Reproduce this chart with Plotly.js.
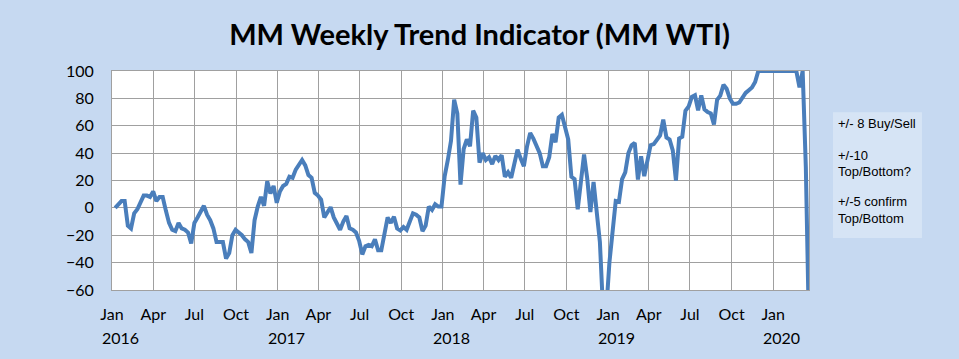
<!DOCTYPE html>
<html>
<head>
<meta charset="utf-8">
<script src="https://cdn.plot.ly/plotly-3.0.1.min.js"></script>
<style>html,body{margin:0;padding:0;background:#c6d9f1;}#chart{width:959px;height:359px;}</style>
</head>
<body>
<div id="chart"></div>
<script>
// Weekly readings (Fridays), first week ending 2016-01-08
const startDate = '2016-01-08';
const wtiValues = [
  0, 3, 5, 5, -13, -15, -4, -1, 4, 9,
  9, 8, 12, 5, 8, 8, -2, -11, -16, -17,
  -11, -15, -16, -18, -26, -11, -7, -2, 1.5, -5,
  -9, -15, -25, -25, -25, -37, -33, -20, -16, -18,
  -20, -23, -25, -33, -9, 1, 8, 1.5, 19.5, 10.5,
  16, 3.7, 12, 16, 17.5, 22.7, 22, 28, 32, 35,
  31, 24, 22, 11, 9, 6, -7, -3, 0.5, -7,
  -12, -16, -10, -6, -15, -16, -18, -24, -34, -28,
  -27, -28, -23, -31, -31, -17, -7, -11, -6.5, -15,
  -16.5, -14, -16, -10, -4, -5, -7, -17, -13, 1,
  -1.5, 2.7, 1, 1, 23, 35, 49, 79, 69, 17,
  43, 50, 45, 71, 66, 33, 40, 35, 37, 32,
  38, 35, 38.5, 22.7, 26, 22, 34, 42.6, 36, 30.5,
  45, 54.8, 50.6, 46, 40, 30.5, 30.5, 37, 54, 48,
  66, 68, 60, 50, 22.7, 21, -1, 20, 39, 21.5,
  -3, 19, -3, -25, -75, -75, -40, -16, 5, 4.5,
  21, 26, 40, 45.8, 47.5, 20.7, 37.7, 23.2, 35, 45.8,
  46.6, 50, 53, 64.5, 51.4, 50, 42, 20, 50.7, 52,
  71, 74, 81, 82.2, 71.3, 82.2, 72, 70, 69, 61,
  79, 82, 90, 87, 80, 76, 76, 77, 81, 84,
  86, 88, 92, 100, 100, 100, 100, 100, 100, 100,
  100, 100, 100, 100, 100, 100, 88, 100, 30, -90
];
const tickDates = ['2016-01-01','2016-04-01','2016-07-01','2016-10-01',
  '2017-01-01','2017-04-01','2017-07-01','2017-10-01',
  '2018-01-01','2018-04-01','2018-07-01','2018-10-01',
  '2019-01-01','2019-04-01','2019-07-01','2019-10-01','2020-01-01'];
const tickLabels = ['Jan','Apr','Jul','Oct','Jan','Apr','Jul','Oct','Jan','Apr','Jul','Oct','Jan','Apr','Jul','Oct','Jan'];
const yearDates = ['2016-01-01','2017-01-01','2018-01-01','2019-01-01','2020-01-01'];
const yearLabels = ['2016','2017','2018','2019','2020'];
const noteLines = ['+/- 8 Buy/Sell', '+/-10', 'Top/Bottom?', '+/-5 confirm', 'Top/Bottom'];
const noteY = [0.760, 0.616, 0.541, 0.403, 0.325];
const titleText = 'MM Weekly Trend Indicator (MM WTI)';

// build weekly dates
const dates = [];
const d0 = new Date(startDate + 'T00:00:00Z');
for (let i = 0; i < wtiValues.length; i++) {
  const d = new Date(d0.getTime() + i * 7 * 86400000);
  dates.push(d.toISOString().slice(0, 10));
}

const annotations = [];
yearDates.forEach((d, i) => {
  annotations.push({x: d, xref: 'x', y: -0.219, yref: 'paper', text: yearLabels[i],
    showarrow: false, xanchor: 'left', yanchor: 'middle', xshift: -12,
    font: {family: 'Lato', size: 16, color: '#000'}});
});
noteLines.forEach((t, i) => {
  annotations.push({x: 1.0383, xref: 'paper', y: noteY[i], yref: 'paper', text: t,
    showarrow: false, xanchor: 'left', yanchor: 'middle',
    font: {family: 'Liberation Sans', size: 13, color: '#000'}});
});

const trace = {
  x: dates, y: wtiValues, type: 'scatter', mode: 'lines',
  line: {color: '#4a7ebb', width: 4}, hoverinfo: 'skip'
};

const layout = {
  width: 959, height: 359,
  paper_bgcolor: '#c6d9f1', plot_bgcolor: '#ffffff',
  margin: {l: 112, r: 150, t: 71, b: 69},
  showlegend: false,
  title: {text: '<b>' + titleText + '</b>', xref: 'container', x: 0.5, xanchor: 'center',
    yref: 'container', y: 0.9025, yanchor: 'middle',
    font: {family: 'Lato', size: 29, color: '#000'}},
  xaxis: {type: 'date', range: ['2016-01-01', '2020-03-20'],
    tickmode: 'array', tickvals: tickDates, ticktext: tickLabels,
    showgrid: true, gridcolor: '#a0a0a0', gridwidth: 1,
    showline: true, mirror: true, linecolor: '#a0a0a0', linewidth: 1,
    ticks: 'outside', ticklen: 10, tickcolor: 'rgba(0,0,0,0)',
    tickfont: {family: 'Lato', size: 16, color: '#000'}, zeroline: false},
  yaxis: {range: [-60, 100], tickmode: 'array', tickvals: [-60,-40,-20,0,20,40,60,80,100],
    showgrid: true, gridcolor: '#a0a0a0', gridwidth: 1,
    showline: true, mirror: true, linecolor: '#a0a0a0', linewidth: 1,
    ticks: 'outside', ticklen: 14, tickcolor: 'rgba(0,0,0,0)',
    tickfont: {family: 'Lato', size: 16, color: '#000'}, zeroline: false},
  shapes: [{type: 'rect', xref: 'paper', yref: 'paper', x0: 1.0344, x1: 1.1621, y0: 0.2371, y1: 0.8117,
    fillcolor: '#d6e4f5', line: {width: 0}, layer: 'below'}],
  annotations: annotations
};

Plotly.newPlot('chart', [trace], layout, {displayModeBar: false, staticPlot: true});
</script>
</body>
</html>
